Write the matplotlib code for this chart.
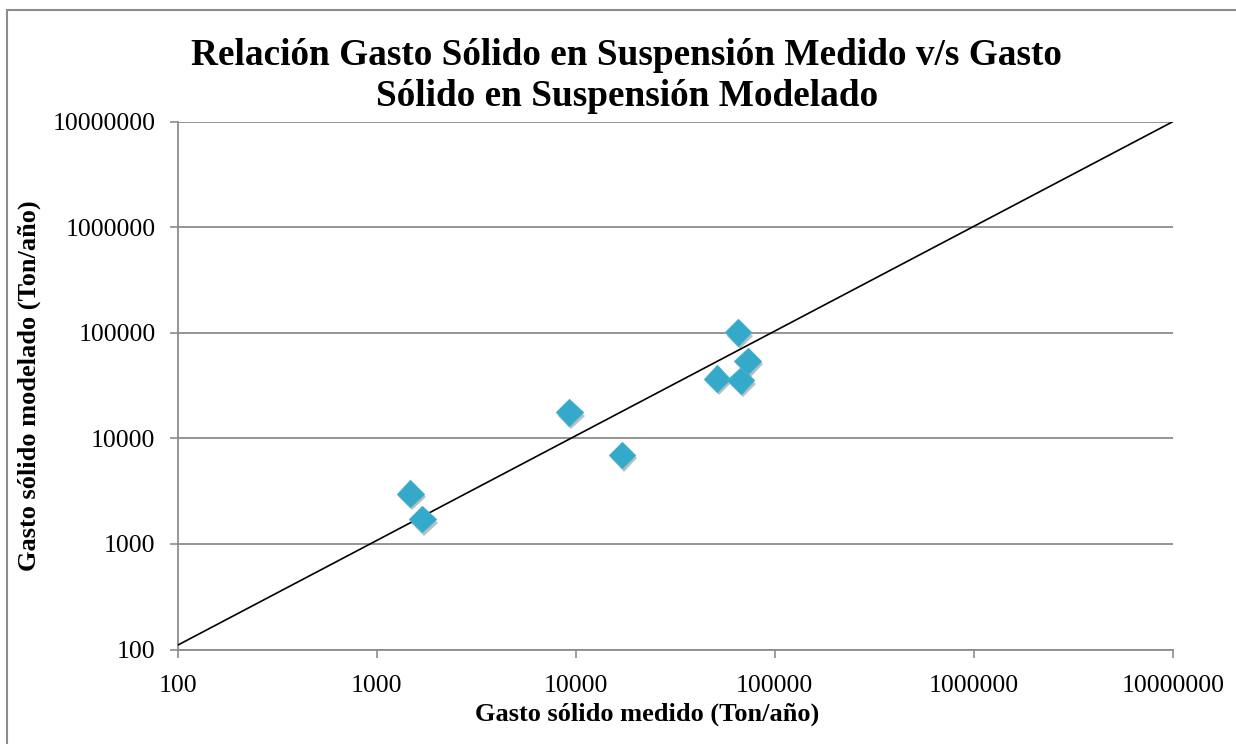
import numpy as np
import matplotlib
matplotlib.use('Agg')
import matplotlib.pyplot as plt
import matplotlib.patheffects as pe
from matplotlib.patches import Rectangle
from matplotlib.ticker import FixedLocator, NullLocator

# measured vs modelled suspended sediment (Ton/año)
medido = [1476, 1695, 9290, 17090, 51200, 65200, 67500, 73100]
modelado = [3000, 1715, 17650, 6990, 36800, 101000, 35500, 54200]
line_x = [100, 10000000]
line_y = [110, 10000000]
ticks = [100, 1000, 10000, 100000, 1000000, 10000000]
tick_labels = ['100', '1000', '10000', '100000', '1000000', '10000000']

title = 'Relación Gasto Sólido en Suspensión Medido v/s Gasto\nSólido en Suspensión Modelado'
xlabel = 'Gasto sólido medido (Ton/año)'
ylabel = 'Gasto sólido modelado (Ton/año)'

plt.rcParams['font.family'] = ['Liberation Serif', 'DejaVu Serif']
grey = '#8c8c8c'

fig = plt.figure(figsize=(12.36, 7.44), dpi=100)
ax = fig.add_axes([0.1438, 0.127, 0.9488 - 0.1438, 0.8364 - 0.127])
ax.set_xscale('log')
ax.set_yscale('log')
ax.set_xlim(100, 10000000)
ax.set_ylim(100, 10000000)

ax.xaxis.set_major_locator(FixedLocator(ticks))
ax.yaxis.set_major_locator(FixedLocator(ticks))
ax.xaxis.set_minor_locator(NullLocator())
ax.yaxis.set_minor_locator(NullLocator())
ax.set_xticklabels(tick_labels)
ax.set_yticklabels(tick_labels)
ax.tick_params(direction='out', length=6, width=1.2, color=grey,
               labelsize=18.5, pad=10)
ax.tick_params(axis='x', pad=12)

for s in ['top', 'right']:
    ax.spines[s].set_visible(False)
for s in ['left', 'bottom']:
    ax.spines[s].set_color(grey)
    ax.spines[s].set_linewidth(1.3)

ax.grid(axis='y', color=grey, lw=1.3)
ax.set_axisbelow(True)

ax.plot(line_x, line_y, color='black', lw=1.2, zorder=3)
ax.plot(medido, modelado, ls='none', marker='D', ms=13.5,
        mfc='#35a9ca', mec='#3fb0cf', mew=0.8, zorder=4,
        path_effects=[pe.SimplePatchShadow(offset=(1.5, -2.5), alpha=0.3),
                      pe.Normal()])

ax.set_xlabel(xlabel, fontsize=19, fontweight='bold')
ax.set_ylabel(ylabel, fontsize=19, fontweight='bold')
ax.xaxis.set_label_coords(0.4717, -0.1)
ax.yaxis.set_label_coords(-0.137, 0.5)
fig.text(0.507, 1 - 38 / 744, title, ha='center', va='top',
         fontsize=26.8, fontweight='bold', linespacing=1.22)

fig.add_artist(Rectangle((7 / 1236, -0.1), 1.1, (744 - 10) / 744 + 0.1,
                         transform=fig.transFigure, fill=False,
                         ec=grey, lw=1.5))

fig.savefig('out.png', dpi=100)
